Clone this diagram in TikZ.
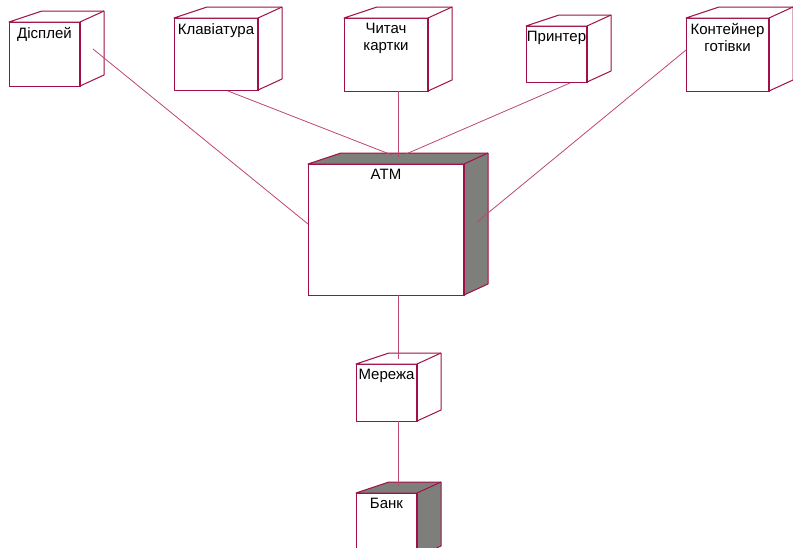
\documentclass[tikz,border=0pt]{standalone}
\usepackage{fontspec}
\setmainfont{Liberation Sans}
\usetikzlibrary{calc}

\definecolor{rose}{RGB}{160,16,72}
\definecolor{roseline}{RGB}{190,70,115}
\definecolor{boxgray}{RGB}{126,127,123}

\begin{document}
\begin{tikzpicture}[x=1pt,y=-1pt,
    dev/.style 2 args={draw=rose, fill=white, line width=1pt, minimum width=#1pt, minimum height=#2pt, inner sep=0pt, outer sep=0pt},
    lbl/.style={anchor=north, inner sep=1pt, yshift=-4pt, align=center, font=\fontsize{15}{17}\selectfont},
    wire/.style={draw=roseline, line width=0.8pt}]
        \useasboundingbox (0,0) rectangle (793,547);
        \clip (0,0) rectangle (793,547);

        % front faces
        \node[dev={71}{64}, label={[lbl]north:Дісплей}] (disp) at (44.5,54) {};
        \node[dev={84}{72}, label={[lbl]north:Клавіатура}] (kbd) at (216,54) {};
        \node[dev={84}{73}, label={[lbl]north:Читач\\картки}] (reader) at (386,54.5) {};
        \node[dev={61}{56}, label={[lbl]north:Принтер}] (printer) at (556.5,54) {};
        \node[dev={83}{73}, label={[lbl]north:Контейнер\\готівки}] (cash) at (727.5,54.5) {};
        \node[dev={156}{131}, label={[lbl]north:ATM}] (atm) at (386,229.5) {};
        \node[dev={61}{57}, label={[lbl]north:Мережа}] (net) at (386.5,392.5) {};
        \node[dev={61}{64}, label={[lbl]north:Банк}] (bank) at (386.5,525) {};

        % depth of the cubes
        \foreach \n/\f in {disp/white, kbd/white, reader/white, printer/white, cash/white, atm/boxgray, net/white, bank/boxgray}{
            \filldraw[draw=rose, fill=\f, line width=1pt, line join=round]
                (\n.north west) -- ++(33,-11) -- ($(\n.north east)+(24,-11)$) -- ($(\n.south east)+(24,-11)$) -- (\n.south east) -- (\n.north east) -- cycle;
            \draw[rose, line width=1pt] (\n.north east) -- ++(24,-11);
            \draw[rose, line width=2pt] (\n.north east) -- (\n.south east);
        }

        % connections
        \draw[wire] ($(disp.east)+(13,-5)$) -- ($(atm.west)+(0,-5.5)$);
        \draw[wire] ($(kbd.south)+(12,1)$) -- ($(atm.north)+(6,-9)$);
        \draw[wire] ($(reader.south)+(12,0)$) -- ($(atm.north)+(12,-7)$);
        \draw[wire] ($(printer.south)+(13.5,1)$) -- ($(atm.north)+(20,-10)$);
        \draw[wire] ($(cash.west)+(0,-4.5)$) -- ($(atm.east)+(13,-7.5)$);
        \draw[wire] ($(atm.south)+(12,0)$) -- ($(net.north)+(11.5,-5)$);
        \draw[wire] ($(net.south)+(11.5,0)$) -- ($(bank.north)+(11.5,-7)$);
\end{tikzpicture}
\end{document}
